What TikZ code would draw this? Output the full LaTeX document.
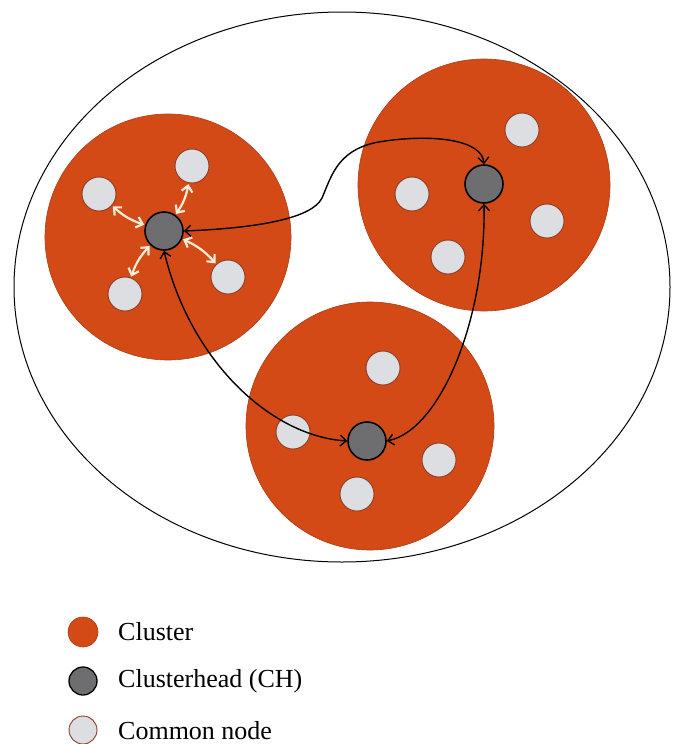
\documentclass[tikz,border=0pt]{standalone}
\usepackage{fontspec}
\setmainfont{Liberation Serif}
\usetikzlibrary{arrows.meta}
\definecolor{clus}{RGB}{212,74,22}
\definecolor{clusb}{RGB}{170,60,25}
\definecolor{chf}{RGB}{110,109,112}
\definecolor{cnf}{RGB}{221,222,226}
\definecolor{cnb}{RGB}{140,60,35}
\definecolor{warr}{RGB}{250,236,215}
\tikzset{
  cluster/.style={circle,fill=clus,draw=clusb,line width=0.6pt,inner sep=0pt},
  chnode/.style={circle,fill=chf,draw=black,line width=1.6pt,minimum size=38pt,inner sep=0pt},
  cnode/.style={circle,fill=cnf,draw=cnb,line width=0.9pt,minimum size=34pt,inner sep=0pt},
  link/.style={line width=1.4pt,{Straight Barb[length=6pt,width=11pt]}-{Straight Barb[length=6pt,width=11pt]}},
  wlink/.style={line width=2.2pt,draw=warr,{Straight Barb[length=6pt,width=11pt]}-{Straight Barb[length=6pt,width=11pt]},shorten <=1pt,shorten >=1pt},
  legtext/.style={anchor=west,font=\fontsize{26}{30}\selectfont,inner sep=0pt}
}
\begin{document}
\begin{tikzpicture}[x=1pt,y=-1pt]
\useasboundingbox (0,0) rectangle (672,744);
% outer ellipse
\draw[line width=1pt] (342,287) ellipse [x radius=328, y radius=275];
% clusters
\node[cluster,minimum size=246pt] (c1) at (168,237) {};
\node[cluster,minimum size=252pt] (c2) at (484,185) {};
\node[cluster,minimum size=248pt] (c3) at (370,426) {};
% common nodes
\node[cnode] (n11) at (99,194) {};
\node[cnode] (n12) at (192,166) {};
\node[cnode] (n13) at (228,277) {};
\node[cnode] (n14) at (125,294) {};
\node[cnode] (n21) at (522,130) {};
\node[cnode] (n22) at (412,194) {};
\node[cnode] (n23) at (547,221) {};
\node[cnode] (n24) at (448,257) {};
\node[cnode] (n31) at (383,368) {};
\node[cnode] (n32) at (293,432) {};
\node[cnode] (n33) at (439,460) {};
\node[cnode] (n34) at (357,494) {};
% cluster heads
\node[chnode] (h1) at (164,231) {};
\node[chnode] (h2) at (484,184) {};
\node[chnode] (h3) at (367,441) {};
% white links
\draw[wlink] (h1) to[bend left=12] (n11);
\draw[wlink] (h1) to[bend right=12] (n12);
\draw[wlink] (h1) to[bend left=12] (n13);
\draw[wlink] (h1) to[bend right=12] (n14);
% CH links
\draw[link] (h1.east) .. controls (260,228) and (312,218) .. (322,198)
  .. controls (332,175) and (338,147) .. (385,141)
  .. controls (435,134) and (482,140) .. (h2.north);
\draw[link] (h1.south) .. controls (190,360) and (270,436) .. (h3.west);
\draw[link] (h2.south) .. controls (486,320) and (440,430) .. (h3.east);
% legend
\node[cluster,minimum size=30pt] (l1) at (83,632) {};
\node[chnode,minimum size=28pt,line width=1.3pt] (l2) at (83,681) {};
\node[cnode,minimum size=28pt] (l3) at (83,730) {};
\node[legtext] (t1) at (118,632) {Cluster};
\node[legtext] (t2) at (118,681) {Clusterhead (CH)};
\node[legtext] (t3) at (118,731) {Common node};
\end{tikzpicture}
\end{document}
